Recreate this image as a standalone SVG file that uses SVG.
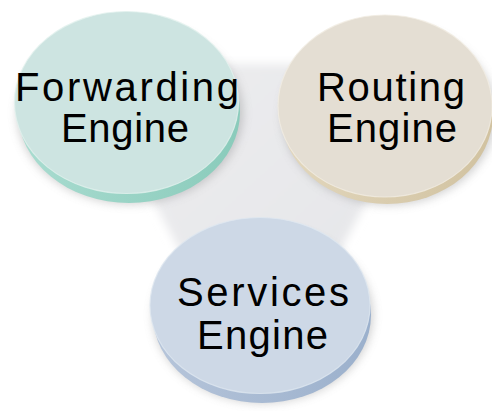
<svg xmlns="http://www.w3.org/2000/svg" width="492" height="411" viewBox="0 0 492 411">
<defs>
  <filter id="blurBg" x="-20%" y="-20%" width="140%" height="140%"><feGaussianBlur stdDeviation="5"/></filter>
  <filter id="shadow" x="-20%" y="-20%" width="140%" height="140%"><feGaussianBlur stdDeviation="5"/></filter>
  <linearGradient id="bgGrad" x1="0" y1="0" x2="1" y2="1">
    <stop offset="0" stop-color="#ededef"/>
    <stop offset="1" stop-color="#e3e4e7"/>
  </linearGradient>
  <linearGradient id="fwSide" x1="0" y1="0" x2="1" y2="0">
    <stop offset="0" stop-color="#a9dcd0"/>
    <stop offset="1" stop-color="#8acbbb"/>
  </linearGradient>
  <linearGradient id="rtSide" x1="0" y1="0" x2="1" y2="0">
    <stop offset="0" stop-color="#e2d7bd"/>
    <stop offset="1" stop-color="#d1c2a0"/>
  </linearGradient>
  <linearGradient id="svSide" x1="0" y1="0" x2="1" y2="0">
    <stop offset="0" stop-color="#b6c5da"/>
    <stop offset="1" stop-color="#9bb0cc"/>
  </linearGradient>
</defs>
<style>
  .lbl { font-family: "Liberation Sans", Arial, sans-serif; font-size: 40px; fill: #000; }
  .shadow { fill: #8a8a8a; opacity: 0.4; filter: url(#shadow); }
  .rim { fill: none; stroke-width: 1.2; opacity: 0.8; }
</style>
<rect width="492" height="411" fill="#ffffff"/>
<polygon points="80,64 440,64 260,400" fill="url(#bgGrad)" filter="url(#blurBg)"/>

<g id="forwarding-engine">
  <ellipse class="shadow" cx="130" cy="113" rx="113" ry="91"/>
  <ellipse cx="129" cy="112" rx="111" ry="91" fill="url(#fwSide)"/>
  <ellipse cx="126.5" cy="102.5" rx="112" ry="91" fill="#cde4e1"/>
  <ellipse class="rim" cx="126.5" cy="102.5" rx="112" ry="91" stroke="#e2f1ee"/>
  <text class="lbl" x="15" y="101" textLength="224" lengthAdjust="spacing">Forwarding</text>
  <text class="lbl" x="61" y="142" textLength="128" lengthAdjust="spacing">Engine</text>
</g>

<g id="routing-engine">
  <ellipse class="shadow" cx="389" cy="115" rx="107" ry="90"/>
  <ellipse cx="387" cy="114" rx="106" ry="90" fill="url(#rtSide)"/>
  <ellipse cx="385" cy="106" rx="107" ry="91" fill="#e4ded3"/>
  <ellipse class="rim" cx="385" cy="106" rx="107" ry="91" stroke="#f1ece2"/>
  <text class="lbl" x="317" y="101" textLength="148" lengthAdjust="spacing">Routing</text>
  <text class="lbl" x="327" y="142" textLength="130" lengthAdjust="spacing">Engine</text>
</g>

<g id="services-engine">
  <ellipse class="shadow" cx="263" cy="315" rx="110" ry="88"/>
  <ellipse cx="262" cy="315" rx="109" ry="88" fill="url(#svSide)"/>
  <ellipse cx="260" cy="305.5" rx="110" ry="88" fill="#cdd8e6"/>
  <ellipse class="rim" cx="260" cy="305.5" rx="110" ry="88" stroke="#dfe7f0"/>
  <text class="lbl" x="177" y="306" textLength="172" lengthAdjust="spacing">Services</text>
  <text class="lbl" x="197" y="349" textLength="131" lengthAdjust="spacing">Engine</text>
</g>

<g id="connectors"></g>
</svg>
